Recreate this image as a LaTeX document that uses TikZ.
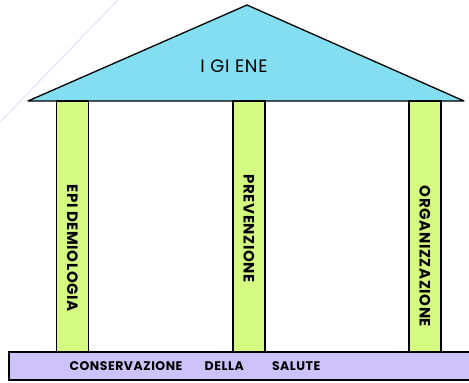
\documentclass[tikz,border=0pt]{standalone}
\usepackage{fontspec}
\setmainfont{Poppins}
\usetikzlibrary{positioning}

\definecolor{tetto}{RGB}{130,222,240}
\definecolor{colonna}{RGB}{212,250,130}
\definecolor{base}{RGB}{205,195,250}

\newfontfamily\largo[LetterSpace=4]{Poppins}

\tikzset{
  colonna/.style={draw, line width=1.2pt, fill=colonna, minimum width=32pt, minimum height=251pt, inner sep=0},
  scritta/.style={font=\largo\bfseries\fontsize{15}{15}\selectfont, rotate=-90},
}

\begin{document}
\begin{tikzpicture}[x=1pt, y=-1pt]

  \useasboundingbox (0, 0) rectangle (469, 383);

  % linea chiara di sfondo
  \draw[blue!12, line width=1pt] (0, 122) -- (118, 0);

  % tetto
  \coordinate (sx) at (28, 101);
  \coordinate (dx) at (464, 101);
  \coordinate (cima) at (247, 5);
  \draw[line width=1.3pt, fill=tetto, line join=round] (sx) -- (cima) -- (dx) -- cycle;
  \node[font=\largo\fontsize{18}{18}\selectfont] (igiene) at (234, 66) {I GI ENE};

  % colonne
  \node[colonna] (c1) at (72.5, 226.5) {};
  \node[colonna] (c2) at (249, 226.5) {};
  \node[colonna] (c3) at (425, 226.5) {};

  \node[scritta] (epi) at (72.5, 248) {EPI DEMIOLOGIA};
  \node[scritta] (prev) at (249, 228.5) {PREVENZIONE};
  \node[scritta] (org) at (425, 256.5) {ORGANIZZAZIONE};

  % base
  \draw[line width=1.2pt, fill=base] (9, 352) rectangle (470, 380);
  \node[font=\largo\bfseries\fontsize{12.5}{12}\selectfont] (salute) at (195, 366) {CONSERVAZIONE \hspace{16pt} DELLA \hspace{22pt} SALUTE};

\end{tikzpicture}
\end{document}
